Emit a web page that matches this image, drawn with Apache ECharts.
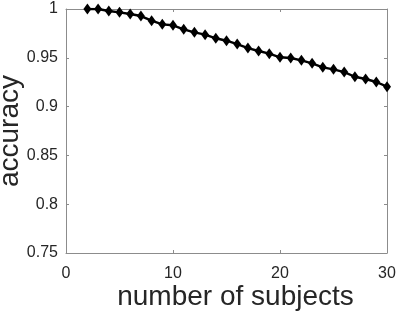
<!DOCTYPE html>
<html>
<head>
<meta charset="utf-8">
<script src="https://cdn.jsdelivr.net/npm/echarts@6/dist/echarts.min.js"></script>
<style>
  html, body { margin: 0; padding: 0; background: #fff; }
  #chart { width: 398px; height: 316px; }
</style>
</head>
<body>
<div id="chart"></div>
<script>
// number of subjects vs accuracy
var subjects = [2, 3, 4, 5, 6, 7, 8, 9, 10, 11, 12, 13, 14, 15, 16, 17, 18, 19, 20,
                21, 22, 23, 24, 25, 26, 27, 28, 29, 30];
var accuracy = [1.000, 1.000, 0.998, 0.9966, 0.9949, 0.9928, 0.988, 0.9843, 0.9833, 0.9792,
                0.9761, 0.9737, 0.970, 0.9675, 0.9641, 0.960, 0.957, 0.9542, 0.9505, 0.9498,
                0.9474, 0.9443, 0.9402, 0.9382, 0.9354, 0.9306, 0.9283, 0.9252, 0.9204];
var xTicks = [0, 30, 10];       // min, max, step
var yTicks = [0.75, 1, 0.05];

var axisColor = "#8c8c8c";
var textColor = "#262626";
var fontName = "Liberation Sans";

var chart = echarts.init(document.getElementById("chart"));

function boxAxis(pos, ticks, extra) {
  var a = {
    type: "value",
    position: pos,
    min: ticks[0],
    max: ticks[1],
    interval: ticks[2],
    splitLine: { show: false },
    axisLine: { show: true, onZero: false, lineStyle: { color: axisColor, width: 1 } },
    axisTick: { show: true, inside: true, length: 3, lineStyle: { color: axisColor } },
    axisLabel: { show: false }
  };
  return Object.assign(a, extra || {});
}

chart.setOption({
  animation: false,
  grid: { left: 66, right: 11, top: 9, bottom: 63, containLabel: false, outerBoundsMode: "none" },
  xAxis: [
    boxAxis("bottom", xTicks, {
      name: "number of subjects",
      nameLocation: "middle",
      nameGap: 30,
      nameMoveOverlap: false,
      nameTextStyle: { color: textColor, fontSize: 28, fontFamily: fontName, padding: [0, 0, 0, 18] },
      axisLabel: { show: true, margin: 13, color: textColor, fontSize: 16, fontFamily: fontName }
    }),
    boxAxis("top", xTicks)
  ],
  yAxis: [
    boxAxis("left", yTicks, {
      name: "accuracy",
      nameLocation: "middle",
      nameGap: 42,
      nameMoveOverlap: false,
      nameTextStyle: { color: textColor, fontSize: 28, fontFamily: fontName },
      axisLabel: { show: true, margin: 8, color: textColor, fontSize: 16, fontFamily: fontName }
    }),
    boxAxis("right", yTicks)
  ],
  series: [{
    type: "line",
    data: subjects.map(function (s, i) { return [s, accuracy[i]]; }),
    symbol: "diamond",
    symbolSize: [8, 11],
    itemStyle: { color: "#000" },
    lineStyle: { color: "#000", width: 2.4 }
  }]
});
</script>
</body>
</html>
